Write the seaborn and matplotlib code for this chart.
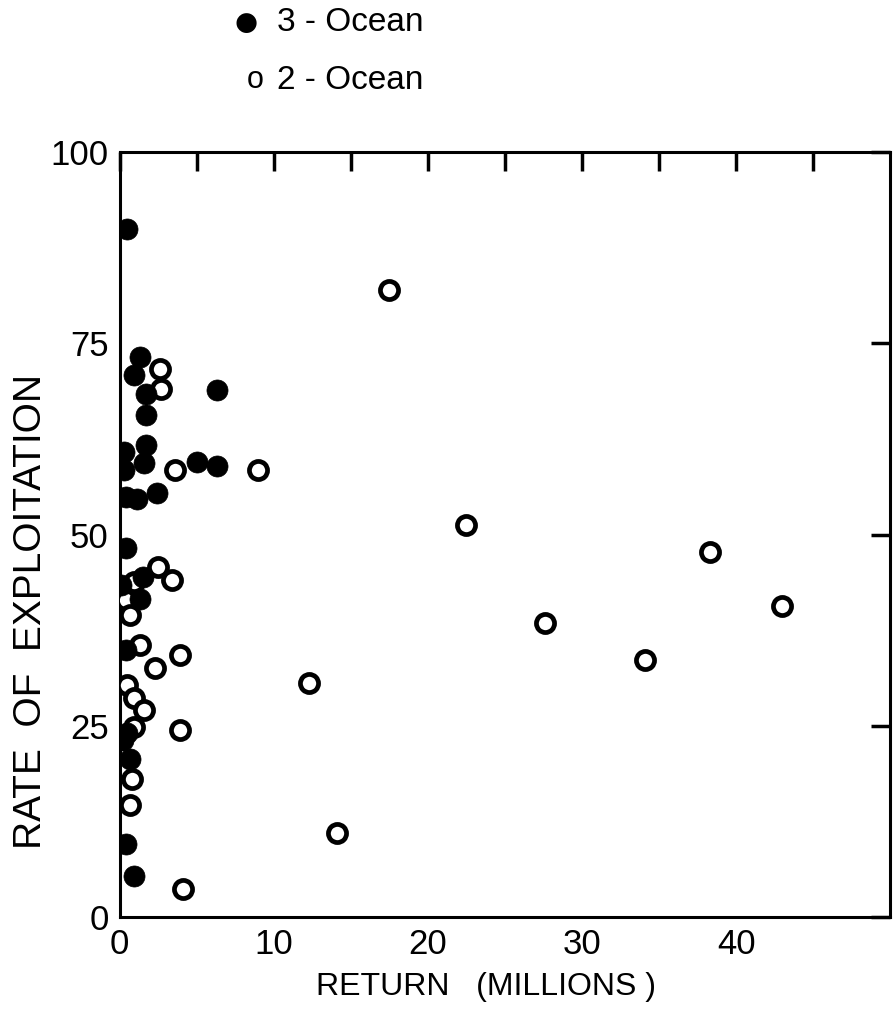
import pandas as pd
import matplotlib.pyplot as plt
import seaborn as sns

# =========================
# Data
# =========================

three_x = [0.5, 1.3, 0.9, 1.7, 6.3, 1.7, 0.3, 1.7, 0.3, 1.6, 5.0, 6.3, 0.4, 1.1, 2.4,
           0.4, 0.1, 1.5, 1.3, 0.4, 0.5, 0.2, 0.65, 0.4, 0.9]
three_y = [90.0, 73.2, 70.8, 68.4, 68.9, 65.6, 60.8, 61.7, 58.4, 59.3, 59.5, 58.9, 54.9, 54.7, 55.4,
           48.2, 43.4, 44.5, 41.6, 34.9, 24.0, 23.1, 20.7, 9.6, 5.3]

two_x = [17.5, 22.5, 27.6, 34.1, 38.3, 43.0, 12.3, 14.1, 9.0, 4.1,
         2.6, 2.7, 3.6, 2.5, 3.4, 0.9, 0.4, 0.7, 1.3, 3.9, 2.3, 0.5, 0.9, 1.6,
         0.9, 3.9, 0.8, 0.65]
two_y = [82.0, 51.2, 38.4, 33.6, 47.7, 40.7, 30.6, 11.0, 58.4, 3.7,
         71.7, 69.0, 58.5, 45.8, 44.0, 43.8, 41.4, 39.5, 35.6, 34.2, 32.5, 30.3, 28.6, 27.1,
         24.9, 24.4, 18.1, 14.6]

df3 = pd.DataFrame({'ret': three_x, 'rate': three_y})
df2 = pd.DataFrame({'ret': two_x, 'rate': two_y})

# =========================
# Style
# =========================

sns.set_style("white")
plt.rcParams['font.family'] = ['Liberation Sans', 'DejaVu Sans']
plt.rcParams['text.color'] = 'black'
plt.rcParams['axes.labelcolor'] = 'black'
plt.rcParams['xtick.color'] = 'black'
plt.rcParams['ytick.color'] = 'black'

fig = plt.figure(figsize=(8.93, 10.28), dpi=100)
ax = fig.add_axes([0.134, 0.108, 0.863, 0.744])

# =========================
# Scatter
# =========================

sns.scatterplot(data=df2, x='ret', y='rate', ax=ax, marker='o', s=170,
                facecolor='white', edgecolor='black', linewidth=3.4, zorder=3)
sns.scatterplot(data=df3, x='ret', y='rate', ax=ax, marker='o', s=230,
                color='black', edgecolor='black', linewidth=0.5, zorder=4)

ax.set_xlim(0, 50)
ax.set_ylim(0, 100)

ax.set_xticks([0, 5, 10, 15, 20, 25, 30, 35, 40, 45])
ax.set_xticklabels(['0', '', '10', '', '20', '', '30', '', '40', ''])
ax.set_yticks([0, 25, 50, 75, 100])
ax.set_yticklabels(['0', '25', '50', '75', '100'])

ax.tick_params(axis='both', direction='in', length=14, width=2.5,
               labelsize=25, top=True, right=True, pad=8)

for sp in ax.spines.values():
    sp.set_linewidth(2.2)
    sp.set_color('black')

ax.set_xlabel("RETURN   (MILLIONS )", fontsize=23)
ax.xaxis.set_label_coords(0.475, -0.072)
ax.set_ylabel("RATE  OF  EXPLOITATION", fontsize=28)
ax.yaxis.set_label_coords(-0.092, 0.40)

# =========================
# Legend (top)
# =========================

fig.text(0.275, 0.978, "\u25CF", fontsize=19, ha='center', va='center', family='DejaVu Sans')
fig.text(0.31, 0.978, "3 - Ocean", fontsize=24, ha='left', va='center')
fig.text(0.286, 0.922, "o", fontsize=22, ha='center', va='center')
fig.text(0.31, 0.922, "2 - Ocean", fontsize=24, ha='left', va='center')

plt.savefig("out.png", dpi=100)
